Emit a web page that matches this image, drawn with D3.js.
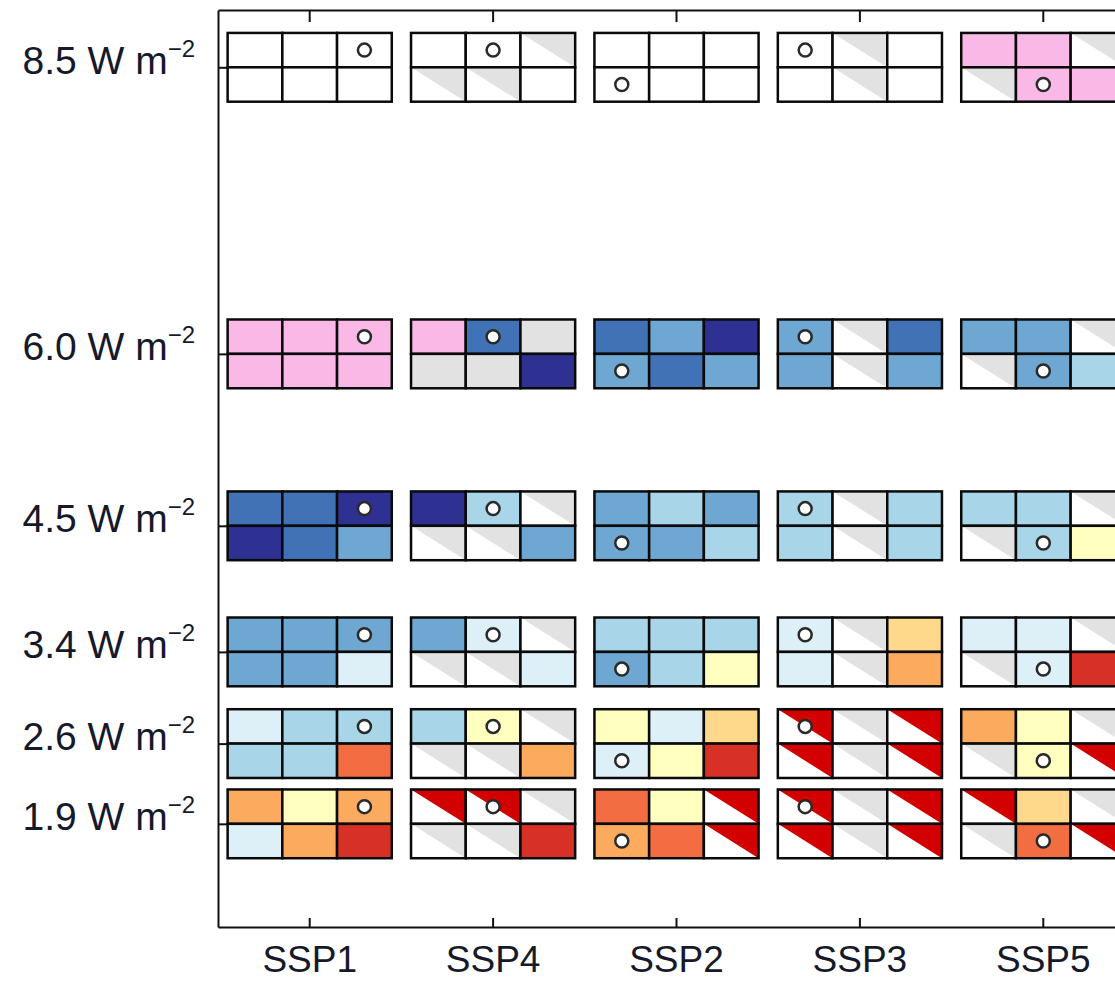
<!DOCTYPE html>
<html>
<head>
<meta charset="utf-8">
<script src="https://d3js.org/d3.v7.min.js"></script>
<style>
  body { margin: 0; background: #fff; }
  svg { display: block; font-family: "Liberation Sans", Arial, sans-serif; }
</style>
</head>
<body>
<div id="container"></div>
<script>
// scenarios along the x axis
const ssps = ["SSP1", "SSP4", "SSP2", "SSP3", "SSP5"];
// forcing levels (W m-2) on the y axis
const forcing = [8.5, 6.0, 4.5, 3.4, 2.6, 1.9];
const forcingLabels = ["8.5", "6.0", "4.5", "3.4", "2.6", "1.9"];

// cell classes, 6 per block (top row left->right, then bottom row), one string per SSP
// W white, P pink, N navy, B blue, M mid blue, L light blue, V pale blue,
// Y yellow, G gold, O orange, R orange-red, D red, E grey, g grey half, r red half
const cells85 = ["WWWWWW", "WWgggW", "WWWWWW", "WgWWgW", "PPggPP"];
const cells60 = ["PPPPPP", "PBEEEN", "BMNMBM", "MgBMgM", "MMggML"];
const cells45 = ["BBNNBM", "NLgggM", "MLMMML", "LgLLgL", "LLggLY"];
const cells34 = ["MMMMMV", "MVgggV", "LLLMLY", "VgGVgO", "VVggVD"];
const cells26 = ["VLLLLR", "LYgggO", "YVGVYD", "rgrrgr", "OYggYr"];
const cells19 = ["OYOVOD", "rrgggD", "RYrORr", "rgrrgr", "rGggRr"];
const cellRows = [cells85, cells60, cells45, cells34, cells26, cells19];

// which cell of each block carries the open circle (same for all forcing levels)
const markerCell = [2, 1, 3, 0, 4];

const classes = ["W", "P", "N", "B", "M", "L", "V", "Y", "G", "O", "R", "D", "E", "g", "r"];
const classColors = ["#ffffff", "#f9b8e6", "#2e3192", "#4172b6", "#6ea7d1", "#a8d5e8", "#ddf0f7",
  "#ffffc0", "#fed98b", "#fcaa5e", "#f36d42", "#d73027", "#e2e2e2", "#e2e2e2", "#d20000"];

const width = 1115;
const height = 983;
const margin = {top: 10, left: 218, bottom: 56};

const svg = d3.select("#container")
  .append("svg")
  .attr("width", width)
  .attr("height", height);

const color = d3.scaleOrdinal().domain(classes).range(classColors);

// bands continue past the right edge of the picture (last block is cut off)
const x = d3.scaleBand()
  .domain(ssps)
  .range([margin.left, margin.left + 5 * 183.4]);

const y = d3.scaleLinear()
  .domain([1, 9])
  .range([height - margin.bottom, margin.top]);

const blockW = x.bandwidth() * 0.895;
const cellW = blockW / 3;
const cellH = y(1) - y(1.3);

// flatten into cell records
const cellData = [];
cellRows.forEach((row, fi) => {
  row.forEach((codes, si) => {
    codes.split("").forEach((c, k) => {
      cellData.push({
        f: forcing[fi],
        ssp: ssps[si],
        row: Math.floor(k / 3),
        col: k % 3,
        cls: c,
        marker: k === markerCell[si]
      });
    });
  });
});

const cx0 = d => x(d.ssp) + (x.bandwidth() - blockW) / 2 + d.col * cellW;
const cy0 = d => y(d.f) - cellH + d.row * cellH;

const cells = svg.append("g").selectAll("g")
  .data(cellData)
  .enter()
  .append("g");

cells.append("rect")
  .attr("x", cx0)
  .attr("y", cy0)
  .attr("width", cellW)
  .attr("height", cellH)
  .attr("fill", d => (d.cls === "g" || d.cls === "r") ? "#fff" : color(d.cls));

// half-filled cells: upper-right triangle coloured
cells.filter(d => d.cls === "g" || d.cls === "r")
  .append("path")
  .attr("d", d => {
    const x0 = cx0(d), y0 = cy0(d);
    return `M${x0},${y0}L${x0 + cellW},${y0}L${x0 + cellW},${y0 + cellH}Z`;
  })
  .attr("fill", d => color(d.cls));

cells.append("rect")
  .attr("x", cx0)
  .attr("y", cy0)
  .attr("width", cellW)
  .attr("height", cellH)
  .attr("fill", "none")
  .attr("stroke", "#0a0a0a")
  .attr("stroke-width", 2.5);

cells.filter(d => d.marker)
  .append("circle")
  .attr("cx", d => cx0(d) + cellW / 2)
  .attr("cy", d => cy0(d) + cellH / 2)
  .attr("r", 6.5)
  .attr("fill", "#fff")
  .attr("stroke", "#2a2a2a")
  .attr("stroke-width", 2.5);

// frame with inward ticks
const axisStyle = g => {
  g.select(".domain").attr("stroke", "#111").attr("stroke-width", 2);
  g.selectAll(".tick line").attr("stroke", "#111").attr("stroke-width", 2);
};

svg.append("g")
  .attr("transform", `translate(0,${margin.top})`)
  .call(d3.axisTop(x).tickSizeInner(-12).tickSizeOuter(0).tickFormat(""))
  .call(axisStyle);

svg.append("g")
  .attr("transform", `translate(0,${height - margin.bottom})`)
  .call(d3.axisBottom(x).tickSizeInner(-9).tickSizeOuter(0).tickPadding(19))
  .call(axisStyle)
  .call(g => g.selectAll("text")
    .attr("fill", "#15192a")
    .style("font-size", "37px")
    .style("font-family", "'Liberation Sans', Arial, sans-serif"));

svg.append("g")
  .attr("transform", `translate(${margin.left},0)`)
  .call(d3.axisLeft(y).tickValues(forcing).tickSizeInner(-10).tickSizeOuter(0).tickFormat(""))
  .call(axisStyle);

// forcing labels with superscript unit
const labels = svg.append("g").selectAll("text")
  .data(forcing)
  .enter()
  .append("text")
  .attr("x", 195)
  .attr("y", d => y(d) + 6.5)
  .attr("text-anchor", "end")
  .attr("fill", "#15192a")
  .style("font-size", "39px");

labels.append("tspan")
  .text((d, i) => forcingLabels[i] + " W m");

labels.append("tspan")
  .attr("dy", -17)
  .style("font-size", "24px")
  .text("\u22122");
</script>
</body>
</html>
